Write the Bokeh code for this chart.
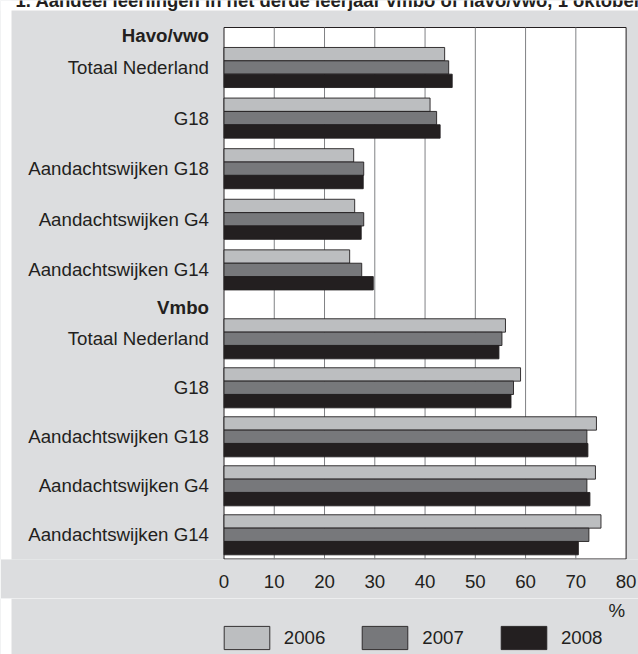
import numpy as np
from bokeh.plotting import figure
from bokeh.layouts import column
from bokeh.models import Range1d, FixedTicker, Legend, LegendItem, ColumnDataSource
from bokeh.core.properties import value
from bokeh.embed import file_html
from bokeh.resources import INLINE

# ---------------- data ----------------
title_text = "1. Aandeel leerlingen in het derde leerjaar vmbo of havo/vwo, 1 oktober"
sections = ["Havo/vwo", "Vmbo"]
categories = ["Totaal Nederland", "G18", "Aandachtswijken G18",
              "Aandachtswijken G4", "Aandachtswijken G14"]
years = ["2006", "2007", "2008"]
havo_2006 = [43.9, 41.0, 25.8, 26.0, 25.0]
havo_2007 = [44.7, 42.3, 27.8, 27.8, 27.4]
havo_2008 = [45.4, 43.0, 27.7, 27.3, 29.7]
vmbo_2006 = [56.0, 59.0, 74.1, 73.9, 75.0]
vmbo_2007 = [55.3, 57.6, 72.2, 72.2, 72.6]
vmbo_2008 = [54.7, 57.1, 72.4, 72.8, 70.5]
x_ticks = [0, 10, 20, 30, 40, 50, 60, 70, 80]
unit_label = "%"

# ---------------- layout / style ----------------
FONT = "Liberation Sans"
FS = "18.7px"
TXT = "#231f20"
BG = "#dcdddf"
GRID = "#808285"
COLORS = ["#bcbec0", "#77787b", "#231f20"]

W = 638
H1 = 598          # main figure height
H2 = 56           # legend strip height
FRAME_B = 559     # bottom of plot area (px)
PLOT_T = 27       # top of plot area (px)
PANEL_TOP = 10    # grey panel starts
PANEL_LEFT = 11
X0_PX, X80_PX = 223.5, 625.6
SCALE = (X80_PX - X0_PX) / 80.0


def px_x(px):
    return (px - X0_PX) / SCALE


SECTION_FIRST = [67.0, 338.3]
SECTION_PITCH = [50.6, 49.0]
HEADER_Y = [35.0, 306.5]
BAR_H = 13.35
OFFSETS = [-BAR_H, 0.0, BAR_H]

values = {
    "2006": havo_2006 + vmbo_2006,
    "2007": havo_2007 + vmbo_2007,
    "2008": havo_2008 + vmbo_2008,
}
group_y, labels = [], []
for s in range(2):
    for i, c in enumerate(categories):
        group_y.append(SECTION_FIRST[s] + i * SECTION_PITCH[s])
        labels.append(c)

xr = Range1d(px_x(0), px_x(W))

# ---------------- main figure ----------------
p = figure(width=W, height=H1, output_backend="svg", toolbar_location=None,
           x_range=xr, y_range=Range1d(FRAME_B, 0),
           y_axis_location=None,
           min_border_left=0, min_border_right=0, min_border_top=0,
           min_border_bottom=H1 - FRAME_B,
           border_fill_color=BG, background_fill_color=BG,
           outline_line_color=None)
p.grid.visible = False

# white strips outside the grey panel
p.quad(left=px_x(0), right=px_x(W), top=0, bottom=PANEL_TOP,
       fill_color="white", line_color=None)
p.quad(left=px_x(0), right=px_x(PANEL_LEFT), top=0, bottom=FRAME_B,
       fill_color="white", line_color=None)
# plot area
p.quad(left=0, right=80, top=PLOT_T, bottom=FRAME_B - 0.5,
       fill_color="white", line_color=TXT, line_width=1)
# vertical grid lines
p.segment(x0=x_ticks[1:-1], x1=x_ticks[1:-1], y0=PLOT_T, y1=FRAME_B,
          line_color=GRID, line_width=1)

for k, yr in enumerate(years):
    src = ColumnDataSource(dict(y=[g + OFFSETS[k] for g in group_y], right=values[yr]))
    p.hbar(y="y", left=0, right="right", height=BAR_H, source=src,
           fill_color=COLORS[k], line_color=TXT, line_width=0.9)

# category labels
p.text(x=[0] * len(group_y), y=group_y, text=labels, x_offset=-15,
       text_align="right", text_baseline="middle",
       text_font=value(FONT), text_font_size=FS, text_color=TXT)
# section headers
p.text(x=[0, 0], y=HEADER_Y, text=sections, x_offset=-15,
       text_align="right", text_baseline="middle",
       text_font=value(FONT), text_font_size=FS, text_font_style="bold",
       text_color=TXT)
# title, cropped at the top edge as in the source image
p.text(x=[px_x(15)], y=[-0.5], text=[title_text], text_align="left",
       text_baseline="middle", text_font=value(FONT),
       text_font_size="18.5px", text_font_style="bold", text_color=TXT)

p.xaxis.ticker = FixedTicker(ticks=x_ticks)
p.xaxis.axis_line_color = None
p.xaxis.major_tick_out = 0
p.xaxis.major_tick_in = 0
p.xaxis.minor_tick_out = 0
p.xaxis.minor_tick_in = 0
p.xaxis.major_label_text_font = FONT
p.xaxis.major_label_text_font_size = FS
p.xaxis.major_label_text_color = TXT
p.xaxis.major_label_standoff = 15

# ---------------- legend strip ----------------
q = figure(width=W, height=H2, output_backend="svg", toolbar_location=None,
           x_range=xr, y_range=Range1d(H2, 0),
           x_axis_location=None, y_axis_location=None,
           min_border_left=0, min_border_right=0, min_border_top=0, min_border_bottom=0,
           border_fill_color=BG, background_fill_color=BG, outline_line_color=None)
q.grid.visible = False
q.quad(left=px_x(0), right=px_x(PANEL_LEFT), top=0, bottom=H2,
       fill_color="white", line_color=None)
q.text(x=[80], y=[12], text=[unit_label], x_offset=-1, text_align="right",
       text_baseline="middle", text_font=value(FONT), text_font_size=FS,
       text_color=TXT)

# legend swatch renderers (no visible geometry, only their styles)
swatches = []
for k, yr in enumerate(years):
    r = q.hbar(y=np.array([np.nan]), left=np.array([0.0]), right=np.array([np.nan]),
               height=1, fill_color=COLORS[k], line_color=TXT, line_width=0.9)
    swatches.append(r)

# area swatches are drawn inset by 10% of the glyph box
legend = Legend(items=[LegendItem(label=yr, renderers=[r]) for yr, r in zip(years, swatches)],
                orientation="horizontal", location=(X0_PX - 5.75, 1.5),
                glyph_width=57, glyph_height=29, label_standoff=9, spacing=31,
                padding=0, margin=0, border_line_color=None,
                background_fill_alpha=0, label_height=30,
                label_text_font=FONT, label_text_font_size=FS, label_text_color=TXT)
q.add_layout(legend, "center")

layout = column(p, q, spacing=0)
open("out.html", "w").write(file_html(layout, INLINE))
